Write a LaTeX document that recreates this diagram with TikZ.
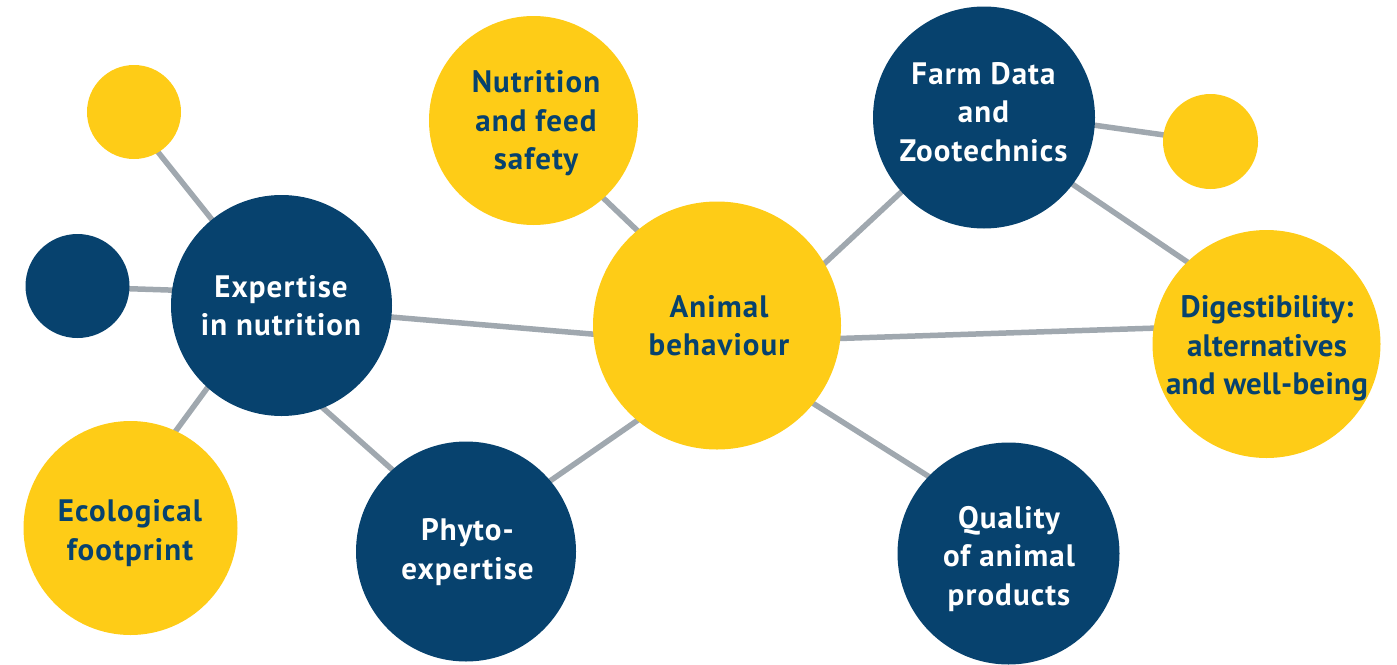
\documentclass[tikz,border=0pt]{standalone}
\usepackage{fontspec}
\setmainfont{PT Sans}
\usetikzlibrary{backgrounds}
\definecolor{cblue}{HTML}{07426E}
\definecolor{cyellow}{HTML}{FECC17}
\definecolor{cgrey}{HTML}{A0A8AF}
\tikzset{
  bubble/.style={circle, inner sep=0pt, outer sep=0pt},
  bcirc/.style={bubble, fill=cblue},
  ycirc/.style={bubble, fill=cyellow},
  lbl/.style={anchor=base, align=center, inner sep=0pt,
    font=\fontsize{31}{38.5}\selectfont\bfseries\addfontfeature{LetterSpace=3.5}},
  wlbl/.style={lbl, text=white},
  blbl/.style={lbl, text=cblue},
  edge/.style={draw=cgrey, line width=5.5pt, shorten <=-8pt, shorten >=-8pt}
}
\begin{document}
\begin{tikzpicture}[x=1pt,y=-1pt]
\useasboundingbox (0,0) rectangle (1397,664);
% circles
\node[ycirc, minimum size=94pt]  (sy1)  at (134,112) {};
\node[bcirc, minimum size=104pt] (sb1)  at (77.5,286) {};
\node[bcirc, minimum size=221pt] (exp)  at (281.5,305.5) {};
\node[ycirc, minimum size=214pt] (eco)  at (130.5,528) {};
\node[bcirc, minimum size=220pt] (phy)  at (466,551.5) {};
\node[ycirc, minimum size=209pt] (nut)  at (533.5,120.5) {};
\node[ycirc, minimum size=248pt] (ani)  at (717,325.5) {};
\node[bcirc, minimum size=222pt] (farm) at (984,117.5) {};
\node[ycirc, minimum size=95pt]  (sy2)  at (1210.5,141.5) {};
\node[ycirc, minimum size=228pt] (dig)  at (1266.5,344) {};
\node[bcirc, minimum size=222pt] (qua)  at (1008.5,553.5) {};
% labels
\node[wlbl] (expt)  at (281,335.7)  {Expertise\\in nutrition};
\node[blbl] (ecot)  at (130,560)    {Ecological\\footprint};
\node[wlbl] (phyt)  at (467.5,579)  {Phyto-\\expertise};
\node[blbl] (nutt)  at (536,169.5)  {Nutrition\\and feed\\safety};
\node[blbl] (anit)  at (719,355.7)  {Animal\\behaviour};
\node[wlbl] (farmt) at (983.5,161)  {Farm Data\\and\\Zootechnics};
\node[blbl, font=\fontsize{31}{38.5}\selectfont\bfseries\addfontfeature{LetterSpace=1}] (digt)  at (1267,394.5) {Digestibility:\\alternatives\\and well-being};
\node[wlbl] (quat)  at (1009,605)   {Quality\\of animal\\products};
% connectors
\begin{pgfonlayer}{background}
\draw[edge] (sy1.-59) -- (exp.129.9);
\draw[edge] (sb1.-3.3) -- (exp.172);
\draw[edge] (exp.228.3) -- (eco.65);
\draw[edge] (exp.-68) -- (phy.132.5);
\draw[edge] (exp.-6.5) -- (ani.184.8);
\draw[edge] (phy.40) -- (ani.230);
\draw[edge] (nut.-48.7) -- (ani.130.2);
\draw[edge] (ani.30) -- (farm.222);
\draw[edge] (ani.-6.7) -- (dig.172.7);
\draw[edge] (ani.-39.4) -- (qua.136.6);
\draw[edge] (farm.-4.4) -- (sy2.172);
\draw[edge] (farm.-37.2) -- (dig.134.1);
\end{pgfonlayer}
\end{tikzpicture}
\end{document}
